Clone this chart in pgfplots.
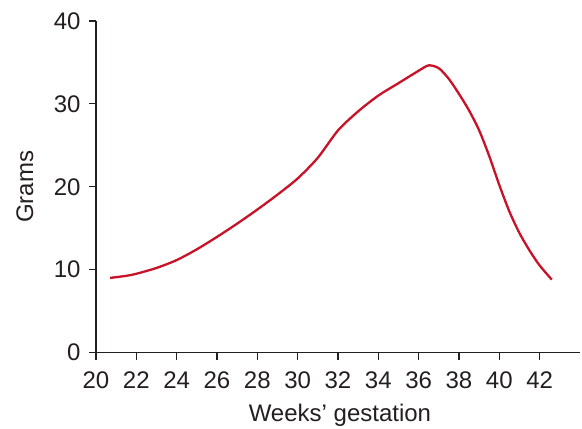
\documentclass[border=0pt]{standalone}
\usepackage{pgfplots}
\pgfplotsset{compat=1.18}
\usepackage{fontspec}
\setmainfont{Liberation Sans}
\definecolor{curvered}{RGB}{200,18,40}
\definecolor{axisgray}{RGB}{35,31,32}
\begin{document}
\begin{tikzpicture}
\begin{axis}[
  name=ax,
  scale only axis,
  width=484bp, height=331.5bp,
  xmin=20, xmax=44, ymin=0, ymax=40,
  axis lines=left,
  axis line style={-, line width=1.6bp, color=axisgray},
  xtick={20,22,...,42}, ytick={0,10,...,40},
  tick align=outside,
  major tick length=7bp,
  tick style={line width=1.1bp, color=axisgray},
  every tick label/.append style={font=\fontsize{24bp}{28bp}\selectfont, color=axisgray},
  xticklabel style={yshift=-9bp},
  yticklabel style={xshift=-5bp},
  /pgf/number format/assume math mode=true,
  xlabel={Weeks’ gestation},
  ylabel={Grams},
  label style={font=\fontsize{24bp}{28bp}\selectfont, color=axisgray},
  xlabel style={at={(axis description cs:0.504,-0.2087)}, anchor=base},
  ylabel style={at={(axis description cs:-0.13,0.5)}, anchor=base},
  clip=false,
]
\addplot[curvered, line width=2.3bp, smooth, tension=0.45] coordinates {
(20.7, 9.0)
(21.5, 9.25)
(22, 9.5)
(23, 10.2)
(24, 11.15)
(25, 12.45)
(26, 13.95)
(27, 15.55)
(28, 17.25)
(29, 19.05)
(30, 21.0)
(31, 23.5)
(32, 26.8)
(33, 29.1)
(34, 31.0)
(35, 32.5)
(36, 34.0)
(36.5, 34.65)
(37, 34.3)
(37.5, 33.0)
(38, 31.2)
(38.5, 29.2)
(39, 26.8)
(39.5, 23.7)
(40, 20.2)
(40.5, 17.0)
(41, 14.4)
(41.5, 12.3)
(42, 10.5)
(42.6, 8.8)
};
\end{axis}
\pgfresetboundingbox
\path ([shift={(-96bp,-76.5bp)}]ax.south west) rectangle ([shift={(2bp,21bp)}]ax.north east);
\end{tikzpicture}
\end{document}
